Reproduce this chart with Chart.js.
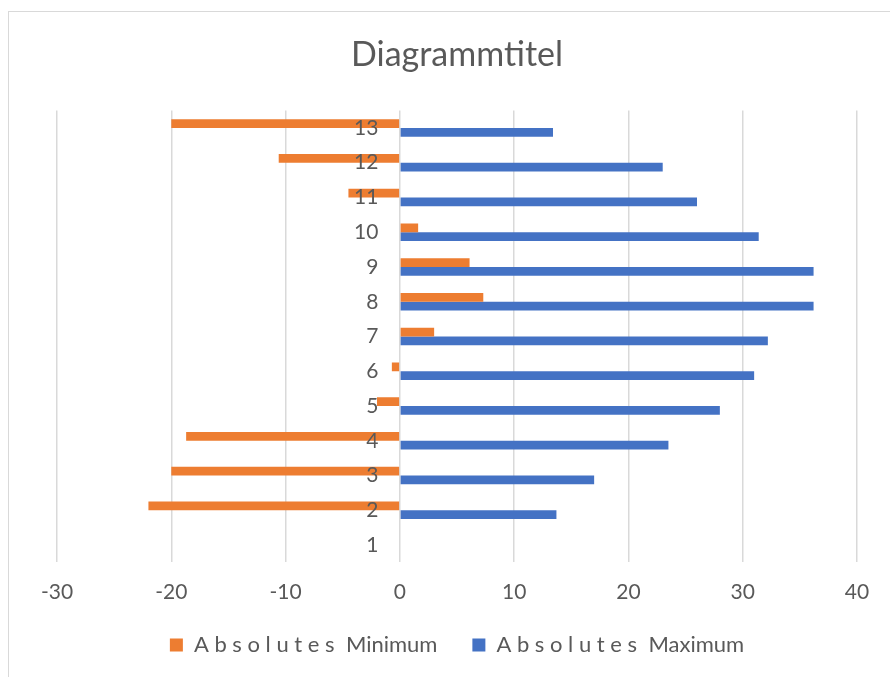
<!DOCTYPE html>
<html>
<head>
<meta charset="utf-8">
<script src="https://cdn.jsdelivr.net/npm/chart.js@4"></script>
<style>
  html, body { margin: 0; padding: 0; background: #fff; overflow: hidden; }
  #frame { position: absolute; left: 8px; top: 11px; width: 1000px; height: 1000px; border: 1px solid #d9d9d9; }
  #wrap { position: absolute; left: 0; top: 0; width: 890px; height: 677px; }
</style>
</head>
<body>
<div id="frame"></div>
<div id="wrap"><canvas id="chart-bar"></canvas></div>
<script>
//data
const categories = ['1', '2', '3', '4', '5', '6', '7', '8', '9', '10', '11', '12', '13'];
const data_minimum = [null, -22.0, -20.0, -18.7, -2.0, -0.7, 3.0, 7.3, 6.1, 1.6, -4.5, -10.6, -20.0];
const data_maximum = [null, 13.7, 17.0, 23.5, 28.0, 31.0, 32.2, 36.2, 36.2, 31.4, 26.0, 23.0, 13.4];
const x_ticks = [-30, -20, -10, 0, 10, 20, 30, 40];

const COLORS = {
    orange: '#ED7D31',
    blue: '#4472C4',
    text: '#595959',
    grid: '#d9d9d9',
};

const data_bar = {
    labels: categories,
    datasets: [
        {
            // trailing spaces keep the gap between the two legend items
            label: 'A b s o l u t e s  Minimum    ',
            data: data_minimum,
            backgroundColor: COLORS.orange,
            barPercentage: 1,
            categoryPercentage: 0.5,
        },
        {
            label: 'A b s o l u t e s  Maximum',
            data: data_maximum,
            backgroundColor: COLORS.blue,
            barPercentage: 1,
            categoryPercentage: 0.5,
        }
    ]
};

const config_bar = {
    type: 'bar',
    data: data_bar,
    options: {
        indexAxis: 'y',
        responsive: true,
        maintainAspectRatio: false,
        animation: false,
        layout: {
            padding: {left: 57, right: 33, top: 0, bottom: 11}
        },
        scales: {
            x: {
                min: -30,
                max: 40,
                afterBuildTicks: (scale) => {
                    scale.ticks = x_ticks.map(v => ({value: v}));
                },
                grid: {
                    color: COLORS.grid,
                    lineWidth: 1.5,
                    drawTicks: false,
                },
                border: {display: false},
                ticks: {
                    color: COLORS.text,
                    font: {family: 'Lato', size: 21},
                    padding: 17,
                }
            },
            y: {
                reverse: true,
                position: {x: 0},
                grid: {display: false, drawTicks: false},
                border: {display: false},
                ticks: {
                    z: 1,
                    color: COLORS.text,
                    font: {family: 'Lato', size: 21},
                    // labels sit left of the zero line, a bit apart from it
                    callback: function(value) {
                        return this.getLabelForValue(value) + '    ';
                    }
                }
            }
        },
        plugins: {
            legend: {
                display: true,
                position: 'bottom',
                labels: {
                    boxWidth: 13,
                    boxHeight: 13,
                    padding: 12.4,
                    color: COLORS.text,
                    font: {family: 'Lato', size: 22},
                }
            },
            title: {
                display: true,
                text: 'Diagrammtitel',
                color: COLORS.text,
                font: {family: 'Lato', size: 34, weight: 'normal'},
                padding: {top: 34.6, bottom: 35.2},
            },
            tooltip: {enabled: false}
        }
    },
};

//render
var bar = new Chart(
    document.getElementById('chart-bar'),
    config_bar
);
</script>
</body>
</html>
